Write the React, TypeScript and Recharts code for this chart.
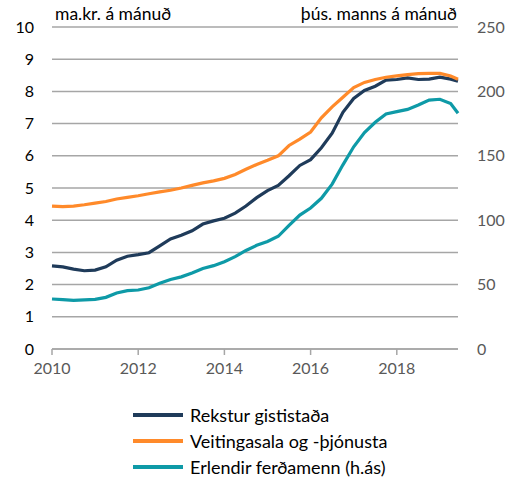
import { LineChart, Line, XAxis, YAxis, CartesianGrid, Legend, Label } from "recharts"

// ársfjórðungar, 2010 – maí 2019
const years = [
  2010, 2010.25, 2010.5, 2010.75, 2011, 2011.25, 2011.5, 2011.75,
  2012, 2012.25, 2012.5, 2012.75, 2013, 2013.25, 2013.5, 2013.75,
  2014, 2014.25, 2014.5, 2014.75, 2015, 2015.25, 2015.5, 2015.75,
  2016, 2016.25, 2016.5, 2016.75, 2017, 2017.25, 2017.5, 2017.75,
  2018, 2018.25, 2018.5, 2018.75, 2019, 2019.25, 2019.42,
]

const rekstur = [
  2.58, 2.55, 2.48, 2.43, 2.45, 2.55, 2.76, 2.88,
  2.93, 2.99, 3.2, 3.42, 3.53, 3.67, 3.88, 3.98,
  4.06, 4.22, 4.44, 4.7, 4.92, 5.08, 5.38, 5.7,
  5.88, 6.25, 6.7, 7.35, 7.78, 8.03, 8.16, 8.35,
  8.37, 8.42, 8.37, 8.38, 8.44, 8.38, 8.32,
]

const veitingar = [
  4.44, 4.42, 4.44, 4.48, 4.53, 4.58, 4.66, 4.71,
  4.76, 4.82, 4.88, 4.93, 5.0, 5.08, 5.16, 5.22,
  5.3, 5.42, 5.58, 5.73, 5.86, 6.0, 6.32, 6.52,
  6.74, 7.18, 7.52, 7.82, 8.12, 8.28, 8.37, 8.44,
  8.48, 8.52, 8.55, 8.56, 8.56, 8.48, 8.38,
]

const ferdamenn = [
  38.8, 38.3, 37.8, 38.2, 38.6, 40.1, 43.5, 45.3,
  45.8, 47.6, 51, 54, 56, 59, 62.5, 64.7,
  67.8, 71.7, 76.5, 80.5, 83.5, 87.5, 96, 104,
  109.5, 117, 128, 143, 157, 168, 176, 182.5,
  184.3, 186, 189.4, 193.3, 193.9, 190.5, 183,
]

const xTicks = [2010, 2012, 2014, 2016, 2018]
const leftTicks = [0, 1, 2, 3, 4, 5, 6, 7, 8, 9, 10]
const rightTicks = [0, 50, 100, 150, 200, 250]

const series = [
  { key: "rekstur", name: "Rekstur gististaða", color: "#1f3b5a", axis: "left" },
  { key: "veitingar", name: "Veitingasala og -þjónusta", color: "#ff8a2a", axis: "left" },
  { key: "ferdamenn", name: "Erlendir ferðamenn (h.ás)", color: "#0e9aa7", axis: "right" },
]

const data = years.map((year, i) => ({
  year,
  rekstur: rekstur[i],
  veitingar: veitingar[i],
  ferdamenn: ferdamenn[i],
}))

const font = "Lato, 'Open Sans', sans-serif"

function LegendBox() {
  return (
    <div style={{ paddingLeft: 133, paddingTop: 16, fontFamily: font, fontSize: 18, lineHeight: "20px", color: "#000" }}>
      {series.map((s, i) => (
        <div
          key={s.key}
          style={{ display: "flex", alignItems: "center", height: 20, marginBottom: i < series.length - 1 ? 6 : 0 }}
        >
          <span style={{ width: 50, height: 4, background: s.color, marginRight: 7, display: "inline-block" }} />
          <span>{s.name}</span>
        </div>
      ))}
    </div>
  )
}

export default function App() {
  return (
    <div style={{ position: "absolute", left: 0, top: 0, width: 518, height: 477, background: "#fff" }}>
      <LineChart width={518} height={477} data={data} margin={{ top: 27, right: 0, left: 0, bottom: 0 }}>
        <CartesianGrid vertical={false} stroke="#a6a6a6" strokeWidth={1.5} yAxisId="left" />
        <XAxis
          dataKey="year"
          type="number"
          domain={[2010, 2019.42]}
          ticks={xTicks}
          height={40}
          tick={{ fill: "#595959", fontSize: 16, fontFamily: font }}
          tickLine={{ stroke: "#a6a6a6", strokeWidth: 1.5 }}
          axisLine={{ stroke: "#a6a6a6", strokeWidth: 1.5 }}
          tickSize={6}
          tickMargin={8}
        />
        <YAxis
          yAxisId="left"
          domain={[0, 10]}
          ticks={leftTicks}
          width={52}
          tick={{ fill: "#000", fontSize: 16, fontFamily: font }}
          tickLine={false}
          axisLine={false}
          tickSize={0}
          tickMargin={18}
        >
          <Label
            content={() => (
              <text x={55} y={20} fill="#000" fontSize={17.5} fontFamily={font}>
                ma.kr. á mánuð
              </text>
            )}
          />
        </YAxis>
        <YAxis
          yAxisId="right"
          orientation="right"
          domain={[0, 250]}
          ticks={rightTicks}
          width={60}
          tick={{ fill: "#595959", fontSize: 16, fontFamily: font, textAnchor: "start" }}
          tickLine={false}
          axisLine={false}
          tickSize={0}
          tickMargin={19}
        >
          <Label
            content={() => (
              <text x={457} y={20} fill="#000" fontSize={17.5} fontFamily={font} textAnchor="end">
                þús. manns á mánuð
              </text>
            )}
          />
        </YAxis>
        <Legend verticalAlign="bottom" height={88} content={() => <LegendBox />} />
        {series.map((s) => (
          <Line
            key={s.key}
            yAxisId={s.axis}
            dataKey={s.key}
            name={s.name}
            stroke={s.color}
            strokeWidth={3.2}
            dot={false}
            type="linear"
            isAnimationActive={false}
          />
        ))}
      </LineChart>
    </div>
  )
}
